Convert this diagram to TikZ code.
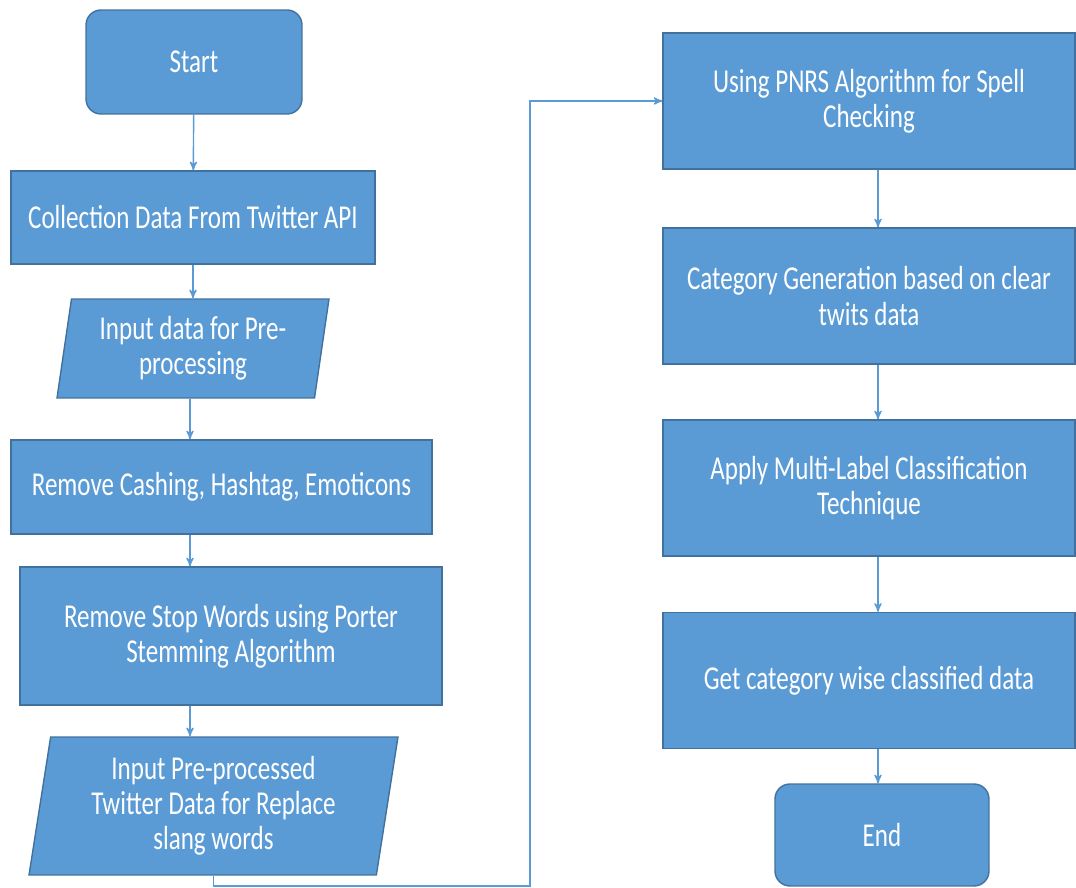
\documentclass[tikz,border=0pt]{standalone}
\usepackage{fontspec}
\setmainfont[FakeStretch=0.75]{Carlito}
\usetikzlibrary{arrows,shapes.geometric}
\definecolor{box_blue}{RGB}{91,155,213}
\definecolor{edge_blue}{RGB}{65,113,156}
\definecolor{line_blue}{RGB}{91,155,213}

\begin{document}
\begin{tikzpicture}[->,>=stealth',line width=0.8pt,x=0.02cm,y=-0.02cm]
    \tikzstyle{node}=[draw=edge_blue, fill=box_blue, text=white, align=center, inner sep=2pt, font=\fontsize{19}{20}\selectfont]
    \tikzstyle{proc}=[style=node, rectangle]
    \tikzstyle{term}=[style=node, rectangle, rounded corners=8.5pt]
    \tikzstyle{io}=[style=node, trapezium, trapezium left angle=78.5, trapezium right angle=101.5, trapezium stretches body]

    \useasboundingbox (0,0) rectangle (1076,888);

    \node[term,minimum width=4.32cm,minimum height=2.08cm] (start)   at (194,62)    {Start};
    \node[proc,minimum width=7.28cm,minimum height=1.86cm] (collect) at (193,217.5) {Collection Data From Twitter API};
    \node[io,minimum width=5.44cm,minimum height=1.98cm]   (input1)  at (193,348.5) {Input data for Pre-\\processing};
    \node[proc,minimum width=8.42cm,minimum height=1.88cm] (remove)  at (221.5,487) {Remove Cashing, Hashtag, Emoticons};
    \node[proc,minimum width=8.44cm,minimum height=2.76cm] (stop)    at (231,636)   {Remove Stop Words using Porter\\Stemming Algorithm};
    \node[io,minimum width=7.38cm,minimum height=2.76cm]   (input2)  at (213.5,806) {Input Pre-processed\\Twitter Data for Replace\\slang words};

    \node[proc,minimum width=8.24cm,minimum height=2.72cm] (pnrs)    at (869,101)   {Using PNRS Algorithm for Spell\\Checking};
    \node[proc,minimum width=8.24cm,minimum height=2.72cm] (categ)   at (869,296)   {Category Generation based on clear\\twits data};
    \node[proc,minimum width=8.24cm,minimum height=2.72cm] (apply)   at (869,488)   {Apply Multi-Label Classification\\Technique};
    \node[proc,minimum width=8.24cm,minimum height=2.72cm] (getcat)  at (869,680.5) {Get category wise classified data};
    \node[term,minimum width=4.28cm,minimum height=2.04cm] (end)     at (882,835)   {End};

    \coordinate (lcol) at (190,0);
    \coordinate (rcol) at (878,0);
    \coordinate (turn) at (530,886);

    \path[line_blue]
     (start)          edge (collect)
     (collect)        edge (collect |- input1.north)
     (lcol |- input1.south) edge (lcol |- remove.north)
     (lcol |- remove.south) edge (lcol |- stop.north)
     (lcol |- stop.south)   edge (lcol |- input2.north)
     (rcol |- pnrs.south)   edge (rcol |- categ.north)
     (rcol |- categ.south)  edge (rcol |- apply.north)
     (rcol |- apply.south)  edge (rcol |- getcat.north)
     (rcol |- getcat.south) edge (rcol |- end.north)
     ;
    \draw[line_blue] (input2.south) |- (turn) |- (pnrs.west);
\end{tikzpicture}
\end{document}
